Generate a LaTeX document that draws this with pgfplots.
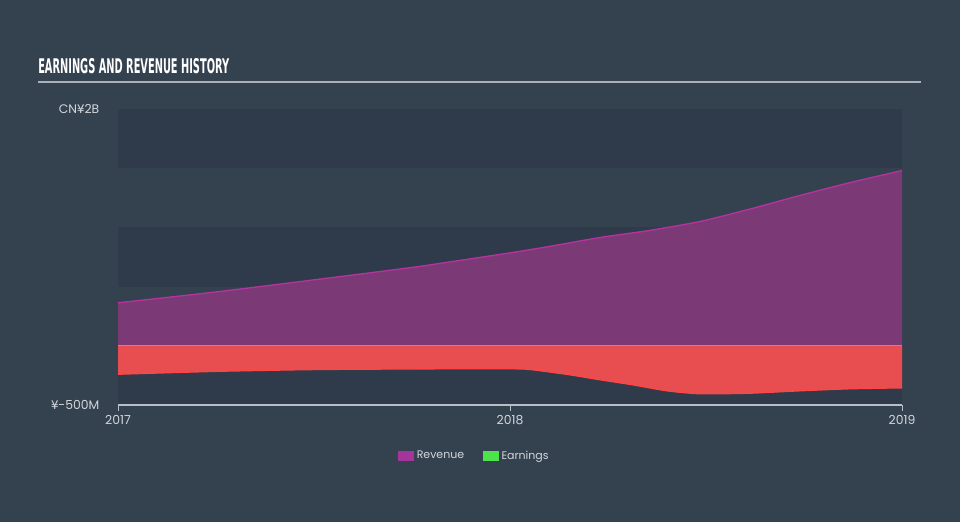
\documentclass[border=0pt]{standalone}
\usepackage{pgfplots}
\pgfplotsset{compat=1.18}
\usepgfplotslibrary{fillbetween}
\usepackage{graphicx}
\usepackage{fontspec}
\setmainfont{Poppins}
\newfontfamily\titlefont{DejaVu Sans}
\definecolor{bg}{HTML}{344250}
\definecolor{band}{HTML}{2F3B4A}
\definecolor{revfill}{HTML}{7B3A75}
\definecolor{revline}{HTML}{B5329F}
\definecolor{earnfill}{HTML}{E84E4F}
\definecolor{earnline}{HTML}{FF4545}
\definecolor{zeroline}{HTML}{F07278}
\definecolor{txt}{HTML}{D2D6DB}
\definecolor{revleg}{HTML}{A6359B}
\definecolor{earnleg}{HTML}{4DE34D}
\definecolor{rulec}{HTML}{AAB0B7}
\definecolor{axc}{HTML}{B6BEC6}

\pgfplotstableread{
x y
2017.000 0.363
2017.250 0.455
2017.500 0.557
2017.750 0.662
2017.847 0.709
2018.000 0.785
2018.102 0.840
2018.230 0.915
2018.357 0.975
2018.485 1.050
2018.612 1.155
2018.740 1.270
2018.867 1.378
2019.000 1.480
}\revenue

\pgfplotstableread{
x y
2017.000 -0.240
2017.260 -0.215
2017.515 -0.200
2017.847 -0.194
2018.000 -0.194
2018.051 -0.200
2018.153 -0.245
2018.230 -0.287
2018.314 -0.330
2018.400 -0.380
2018.485 -0.405
2018.612 -0.400
2018.740 -0.380
2018.867 -0.363
2019.000 -0.355
}\earnings

\begin{document}
\begin{tikzpicture}
\begin{scope}[x=0.75pt,y=0.75pt]
\useasboundingbox (0,0) rectangle (960,522);
\fill[bg] (0,0) rectangle (960,522);
\node[anchor=south west, inner sep=0, text=white] at (38,448) {\resizebox{143.25pt}{11.25pt}{\titlefont\bfseries EARNINGS AND REVENUE HISTORY}};
\draw[rulec, line width=1.5pt] (38,440) -- (921,440);
\end{scope}
\begin{axis}[
  at={(88.5pt,87.75pt)}, anchor=south west,
  scale only axis, width=588pt, height=222pt,
  xmin=2017, xmax=2019, ymin=-0.5, ymax=2,
  axis on top,
  axis x line*=bottom, axis y line*=left,
  y axis line style={draw=none},
  x axis line style={draw=axc, line width=0.9pt},
  xtick={2017,2018,2019}, xticklabels={2017,2018,2019},
  xtick style={draw=axc, line width=0.75pt},
  tick align=outside, major tick length=4.5pt,
  ytick={-0.5,2}, yticklabels={¥-500M,CN¥2B},
  ytick style={draw=none},
  ticklabel style={font=\fontsize{9.3}{11}\selectfont, text=txt},
  yticklabel style={xshift=-6pt},
  clip=false,
  fill between/on layer=main,
  legend columns=2,
  legend style={draw=none, fill=none, text=txt, font=\fontsize{8.25}{10}\selectfont,
    at={(0.455,-0.172)}, anchor=center,
    /tikz/every even column/.append style={column sep=12pt}},
  legend image code/.code={\fill[#1] (0pt,-3.75pt) rectangle (12pt,3.75pt);},
]
\fill[band] (axis cs:2017,-0.5) rectangle (axis cs:2019,0);
\fill[band] (axis cs:2017,0.5) rectangle (axis cs:2019,1);
\fill[band] (axis cs:2017,1.5) rectangle (axis cs:2019,2);
\addplot[name path=zero, draw=none, forget plot] coordinates {(2017,0) (2019,0)};
\addplot[name path=rev, draw=none, smooth, tension=0.4, forget plot] table[x=x,y=y] {\revenue};
\addplot[name path=earn, draw=none, smooth, tension=0.4, forget plot] table[x=x,y=y] {\earnings};
\addplot[revfill, forget plot] fill between[of=rev and zero];
\addplot[earnfill, forget plot] fill between[of=earn and zero];
\addplot[revline, line width=1pt, smooth, tension=0.4, forget plot] table[x=x,y=y] {\revenue};
\addplot[earnline, line width=1pt, smooth, tension=0.4, forget plot] table[x=x,y=y] {\earnings};
\addplot[zeroline, line width=0.9pt, forget plot] coordinates {(2017,0) (2019,0)};
\addlegendimage{fill=revleg, draw=none}
\addlegendentry{Revenue}
\addlegendimage{fill=earnleg, draw=none}
\addlegendentry{Earnings}
\end{axis}
\end{tikzpicture}
\end{document}
